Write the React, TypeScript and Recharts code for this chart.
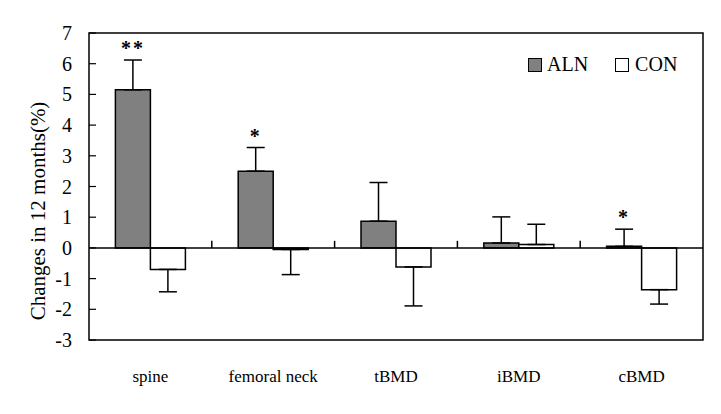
import React from 'react';
import {
  ComposedChart, Bar, XAxis, YAxis, ErrorBar, ReferenceLine, ReferenceArea, Legend, Line, LabelList,
} from 'recharts';

const categories = ['spine', 'femoral neck', 'tBMD', 'iBMD', 'cBMD'];
const alnValues = [5.15, 2.5, 0.87, 0.16, 0.05];
const alnErrors = [0.97, 0.77, 1.26, 0.85, 0.56];
const conValues = [-0.7, -0.05, -0.62, 0.11, -1.36];
const conErrors = [0.73, 0.82, 1.27, 0.66, 0.47];
const significance = ['**', '*', '', '', '*'];
const yTicks = [-3, -2, -1, 0, 1, 2, 3, 4, 5, 6, 7];
const boundaries = [1, 2, 3, 4];

const oneSided = (v: number, e: number) => (v >= 0 ? [0, e] : [e, 0]);

const data = categories.map((name, i) => ({
  name,
  idx: i + 0.5,
  aln: alnValues[i],
  con: conValues[i],
  alnErr: oneSided(alnValues[i], alnErrors[i]),
  conErr: oneSided(conValues[i], conErrors[i]),
  sig: significance[i],
  sigY: significance[i] ? alnValues[i] + alnErrors[i] : null,
}));

const FONT = '"Liberation Serif", "DejaVu Serif", serif';

const YTick = (props: any) => {
  const { x, y, payload } = props;
  return (
    <g>
      <line x1={x} y1={y} x2={x + 7} y2={y} stroke="#000" strokeWidth={1.2} />
      <text x={x - 17} y={y} dy="0.35em" textAnchor="end" fontFamily={FONT} fontSize={20} fill="#000">
        {payload.value}
      </text>
    </g>
  );
};

const LegendContent = () => (
  <div style={{ display: 'flex', alignItems: 'center', fontFamily: FONT, fontSize: 20, color: '#000' }}>
    <span style={{ width: 14, height: 14, background: '#808080', border: '1.5px solid #000', boxSizing: 'border-box', display: 'inline-block' }} />
    <span style={{ marginLeft: 5 }}>ALN</span>
    <span style={{ width: 14, height: 14, background: '#fff', border: '1.5px solid #000', boxSizing: 'border-box', display: 'inline-block', marginLeft: 27 }} />
    <span style={{ marginLeft: 6 }}>CON</span>
  </div>
);

export default function App() {
  return (
    <div style={{ position: 'absolute', left: 0, top: 0, background: '#fff' }}>
      <ComposedChart
        width={721}
        height={414}
        data={data}
        margin={{ top: 33, right: 18, bottom: 0, left: 0 }}
        barGap={0}
        barCategoryGap="21.5%"
      >
        <XAxis
          dataKey="name"
          axisLine={false}
          tickLine={false}
          tickSize={0}
          tickMargin={30}
          height={74}
          interval={0}
          tick={{ fontFamily: FONT, fontSize: 17, fill: '#000' }}
        />
        <XAxis xAxisId="num" dataKey="idx" type="number" domain={[0, 5]} hide />
        <YAxis
          domain={[-3, 7]}
          ticks={yTicks}
          interval={0}
          width={89}
          axisLine={false}
          tickLine={false}
          tickSize={0}
          tickMargin={0}
          tick={<YTick />}
          label={(p: any) => (
            <text
              x={38}
              y={211}
              transform="rotate(-90 38 211)"
              textAnchor="middle"
              dominantBaseline="central"
              fontFamily={FONT}
              fontSize={21}
              fill="#000"
            >
              Changes in 12 months(%)
            </text>
          )}
        />
        <ReferenceArea y1={-3} y2={7} fill="none" stroke="#000" strokeWidth={1.5} ifOverflow="visible" />
        <Bar dataKey="aln" fill="#808080" stroke="#000" strokeWidth={1.5} isAnimationActive={false}>
          <ErrorBar dataKey="alnErr" width={9} stroke="#000" strokeWidth={1.5} />
        </Bar>
        <Bar dataKey="con" fill="#ffffff" stroke="#000" strokeWidth={1.5} isAnimationActive={false}>
          <ErrorBar dataKey="conErr" width={9} stroke="#000" strokeWidth={1.5} />
        </Bar>
        <ReferenceLine y={0} stroke="#000" strokeWidth={1.5} />
        {boundaries.map((b) => (
          <ReferenceLine
            key={b}
            xAxisId="num"
            segment={[{ x: b, y: 0 }, { x: b, y: 0.23 }]}
            stroke="#000"
            strokeWidth={1.5}
          />
        ))}
        <Line
          dataKey="sigY"
          stroke="none"
          dot={false}
          activeDot={false}
          isAnimationActive={false}
          legendType="none"
        >
          <LabelList
            dataKey="sig"
            content={(p: any) =>
              p.value ? (
                <text
                  x={p.x - 17.5}
                  y={p.y - 5}
                  textAnchor="middle"
                  fontFamily={FONT}
                  fontSize={20}
                  fontWeight="bold"
                  fill="#000"
                  letterSpacing={2}
                >
                  {p.value}
                </text>
              ) : null
            }
          />
        </Line>
        <Legend
          content={<LegendContent />}
          wrapperStyle={{ position: 'absolute', top: 53, left: 528, width: 'auto', height: 0, overflow: 'visible' }}
        />
      </ComposedChart>
    </div>
  );
}
